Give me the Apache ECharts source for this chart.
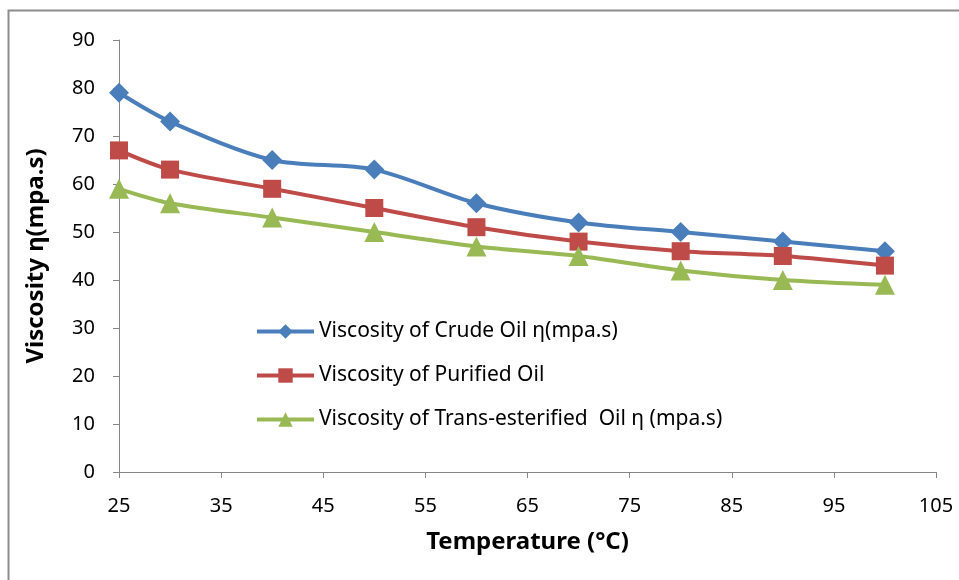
<!DOCTYPE html>
<html>
<head>
<meta charset="utf-8">
<script src="https://cdn.jsdelivr.net/npm/echarts@6/dist/echarts.min.js"></script>
<style>
  html, body { margin: 0; padding: 0; background: #fff; }
  #chart { width: 959px; height: 580px; }
</style>
</head>
<body>
<div id="chart"></div>
<script>
var temps = [25, 30, 40, 50, 60, 70, 80, 90, 100];
var crudeOil = [79, 73, 65, 63, 56, 52, 50, 48, 46];
var purifiedOil = [67, 63, 59, 55, 51, 48, 46, 45, 43];
var transOil = [59, 56, 53, 50, 47, 45, 42, 40, 39];
var seriesNames = [
    'Viscosity of Crude Oil \u03B7(mpa.s)',
    'Viscosity of Purified Oil',
    'Viscosity of Trans-esterified  Oil \u03B7 (mpa.s)'
];

var font = '"Noto Sans", "DejaVu Sans", sans-serif';

var pairs = function (ys) {
    return temps.map(function (t, i) { return [t, ys[i]]; });
};

var chartDom = document.getElementById('chart');
var myChart = echarts.init(chartDom);

var option = {
    animation: false,
    backgroundColor: '#fff',
    grid: { left: 119, top: 40, right: 23, bottom: 108 },
    graphic: [
        {
            type: 'rect',
            shape: { x: 8.5, y: 10.5, width: 970, height: 600 },
            style: { fill: 'none', stroke: '#8c8c8c', lineWidth: 2 },
            silent: true
        }
    ],
    legend: {
        orient: 'vertical',
        left: 250,
        top: 316,
        itemWidth: 57,
        itemHeight: 18,
        itemGap: 23,
        itemStyle: {},
        lineStyle: { width: 4 },
        textStyle: { fontFamily: font, fontSize: 21, color: '#000' },
        data: seriesNames
    },
    xAxis: {
        type: 'value',
        min: 25,
        max: 105,
        interval: 10,
        name: 'Temperature (\u00B0C)',
        nameLocation: 'middle',
        nameGap: 58,
        nameTextStyle: { fontFamily: font, fontSize: 24, fontWeight: 'bold', color: '#000' },
        axisLine: { lineStyle: { color: '#868686', width: 1 } },
        axisTick: { show: true, length: 6, lineStyle: { color: '#868686' } },
        axisLabel: { fontFamily: font, fontSize: 20, color: '#000', margin: 24 },
        splitLine: { show: false }
    },
    yAxis: {
        type: 'value',
        min: 0,
        max: 90,
        interval: 10,
        name: 'Viscosity \u03B7(mpa.s)',
        nameLocation: 'middle',
        nameGap: 71,
        nameTextStyle: { fontFamily: font, fontSize: 24, fontWeight: 'bold', color: '#000' },
        axisLine: { show: true, lineStyle: { color: '#868686', width: 1 } },
        axisTick: { show: true, length: 6, lineStyle: { color: '#868686' } },
        axisLabel: { fontFamily: font, fontSize: 20, color: '#000', margin: 24 },
        splitLine: { show: false }
    },
    series: [
        {
            name: seriesNames[0],
            type: 'line',
            smooth: 0.3,
            data: pairs(crudeOil),
            symbol: 'diamond',
            symbolSize: 20,
            itemStyle: { color: '#4A7EBB' },
            lineStyle: { width: 4, color: '#4A7EBB' }
        },
        {
            name: seriesNames[1],
            type: 'line',
            smooth: 0.3,
            data: pairs(purifiedOil),
            symbol: 'rect',
            symbolSize: 18,
            itemStyle: { color: '#BE4B48' },
            lineStyle: { width: 4, color: '#BE4B48' }
        },
        {
            name: seriesNames[2],
            type: 'line',
            smooth: 0.3,
            data: pairs(transOil),
            symbol: 'triangle',
            symbolSize: 20,
            itemStyle: { color: '#98B954' },
            lineStyle: { width: 4, color: '#98B954' }
        }
    ]
};

option && myChart.setOption(option);
</script>
</body>
</html>
